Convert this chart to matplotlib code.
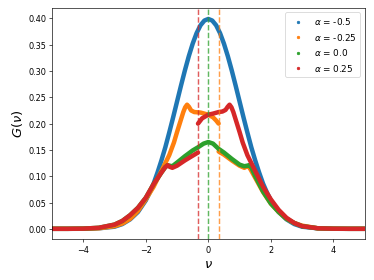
import numpy as np
import matplotlib
matplotlib.use("Agg")
import matplotlib.pyplot as plt
from matplotlib.lines import Line2D

# values
x_blue = [-5, -4.5, -4, -3.5, -3, -2.75, -2.5, -2.25, -2, -1.875, -1.75, -1.625, -1.5, -1.375, -1.25, -1.125, -1.0,
          -0.875, -0.75, -0.625, -0.5, -0.375, -0.25, -0.125, 0,
          0.125, 0.25, 0.375, 0.5, 0.625, 0.75, 0.875, 1.0, 1.125, 1.25, 1.375, 1.5, 1.625, 1.75, 1.875, 2,
          2.25, 2.5, 2.75, 3, 3.5, 4, 4.5, 5]
y_blue = [0, 0, 0.0001, 0.001, 0.004, 0.009, 0.018, 0.032, 0.054, 0.069, 0.086, 0.107, 0.13, 0.155, 0.183, 0.212, 0.242,
          0.272, 0.301, 0.328, 0.352, 0.372, 0.387, 0.396, 0.399,
          0.396, 0.387, 0.372, 0.352, 0.328, 0.301, 0.272, 0.242, 0.212, 0.183, 0.155, 0.13, 0.107, 0.086, 0.069, 0.054,
          0.032, 0.018, 0.009, 0.004, 0.001, 0.0001, 0, 0]

# alpha = -0.25 : upper branch left of +0.33, lower branch right of it
x_orange = [-5, -4.5, -4, -3.5, -3, -2.75, -2.5, -2.25, -2, -1.75, -1.5, -1.25, -1.1, -1.0, -0.9, -0.8, -0.74, -0.68,
            -0.62, -0.55, -0.45, -0.25, 0, 0.15, 0.25, 0.33, np.nan,
            0.33, 0.5, 0.75, 1.0, 1.15, 1.22, 1.28, 1.35, 1.5, 1.75, 2.0, 2.25, 2.5, 2.75, 3.0, 3.5, 4.0, 4.5, 5]
y_orange = [0, 0, 0.0002, 0.001, 0.005, 0.01, 0.019, 0.034, 0.056, 0.08, 0.11, 0.14, 0.164, 0.184, 0.203, 0.222, 0.231, 0.236,
            0.232, 0.225, 0.222, 0.221, 0.217, 0.212, 0.206, 0.200, np.nan,
            0.147, 0.141, 0.13, 0.12, 0.116, 0.118, 0.119, 0.113, 0.097, 0.07, 0.048, 0.032, 0.019, 0.011, 0.006, 0.001, 0.0002, 0, 0]

x_green = [-5, -4.5, -4, -3.5, -3, -2.75, -2.5, -2.25, -2, -1.75, -1.5, -1.38, -1.3, -1.24, -1.15, -1.0, -0.75, -0.5, -0.33,
           -0.15, 0, 0.15, 0.33, 0.5, 0.75, 1.0, 1.15, 1.24, 1.3, 1.38, 1.5, 1.75, 2.0, 2.25, 2.5, 2.75, 3.0, 3.5, 4, 4.5, 5]
y_green = [0, 0, 0.0003, 0.002, 0.008, 0.015, 0.026, 0.04, 0.059, 0.085, 0.107, 0.117, 0.121, 0.12, 0.119, 0.126, 0.138, 0.149, 0.155,
           0.162, 0.165, 0.162, 0.152, 0.145, 0.133, 0.122, 0.119, 0.12, 0.121, 0.116, 0.1, 0.071, 0.048, 0.032, 0.019, 0.011, 0.005, 0.001, 0.0002, 0, 0]

# alpha = 0.25 : lower branch left of -0.33, upper branch right of it
x_red = [-5, -4.5, -4, -3.5, -3, -2.75, -2.5, -2.25, -2, -1.75, -1.5, -1.38, -1.3, -1.24, -1.15, -1.0, -0.75, -0.5, -0.33, np.nan,
         -0.33, -0.2, 0, 0.15, 0.33, 0.45, 0.55, 0.62, 0.68, 0.74, 0.8, 0.9, 1.0, 1.1, 1.25, 1.5, 1.75, 2.0, 2.25, 2.5, 2.75, 3.0,
         3.5, 4, 4.5, 5]
y_red = [0, 0, 0.0003, 0.002, 0.008, 0.015, 0.026, 0.04, 0.059, 0.085, 0.107, 0.117, 0.121, 0.118, 0.116, 0.12, 0.13, 0.139, 0.145, np.nan,
         0.2, 0.21, 0.217, 0.219, 0.222, 0.223, 0.226, 0.232, 0.236, 0.231, 0.222, 0.203, 0.184, 0.164, 0.14, 0.11, 0.08, 0.056, 0.036,
         0.021, 0.011, 0.005, 0.001, 0.0002, 0, 0]

labels = ["$\\alpha$ = -0.5", "$\\alpha$ = -0.25", "$\\alpha$ = 0.0", "$\\alpha$ = 0.25"]
colors = ["tab:blue", "tab:orange", "tab:green", "tab:red"]
vlines = [-0.33, 0.0, 0.33]
vline_colors = ["tab:red", "tab:green", "tab:orange"]

fig, ax = plt.subplots(figsize=(6.4, 4.8), dpi=374/6.4)
fig.subplots_adjust(left=0.139, right=0.975, top=0.970, bottom=0.145)

series = [(x_blue, y_blue), (x_orange, y_orange), (x_green, y_green), (x_red, y_red)]
for (xs, ys), c in zip(series, colors):
    ax.plot(xs, ys, color=c, lw=5.5, solid_capstyle="round", solid_joinstyle="round")

for v, c in zip(vlines, vline_colors):
    ax.axvline(v, color=c, ls="--", lw=1.8, alpha=0.75)

handles = [Line2D([], [], color=c, marker=".", ls="") for c in colors]
ax.legend(handles, labels, loc="upper right", fontsize=11)

ax.set_xlim(-5, 5)
ax.set_ylim(-0.02, 0.42)
ax.set_yticks(np.arange(0, 0.41, 0.05))
ax.set_xlabel("$\\nu$", fontsize=16)
ax.set_ylabel("$G(\\nu)$", fontsize=16)

fig.savefig("out.png")
